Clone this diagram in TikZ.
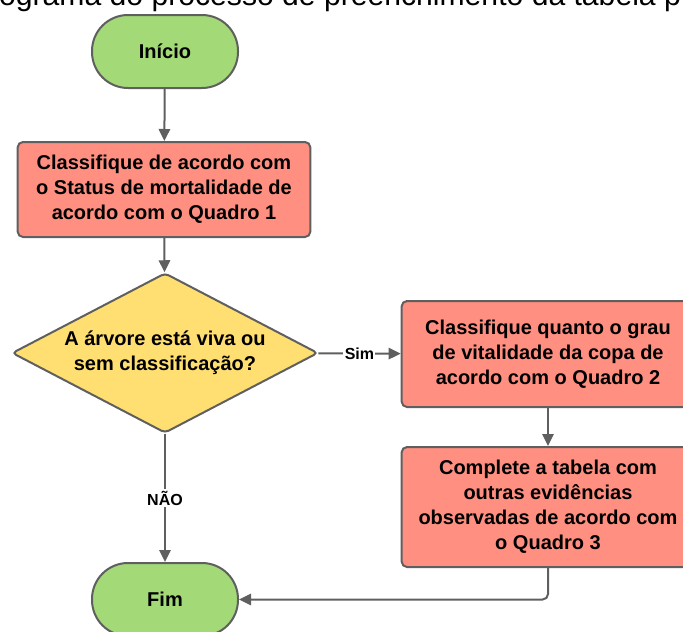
\documentclass[tikz,border=0pt]{standalone}
\usepackage{fontspec}
\setmainfont{Liberation Sans}
\usetikzlibrary{shapes.geometric,arrows.meta}
\definecolor{startgreen}{HTML}{A3D977}
\definecolor{boxred}{HTML}{FF8F80}
\definecolor{askyellow}{HTML}{FFDF71}
\definecolor{edgegray}{HTML}{5F5F5F}
\tikzset{
  terminal/.style={draw=edgegray,line width=1.5pt,fill=startgreen,rounded corners=27pt,
    minimum width=109.5pt,minimum height=54.75pt,font=\bfseries\fontsize{15}{18.75}\selectfont},
  process/.style={draw=edgegray,line width=1.5pt,fill=boxred,rounded corners=4pt,
    minimum width=219.5pt,align=center,font=\bfseries\fontsize{15}{18.75}\selectfont},
  decision/.style={diamond,draw=edgegray,line width=1.5pt,fill=askyellow,rounded corners=3pt,
    shape aspect=1.91,inner sep=0pt,minimum width=229.5pt,minimum height=120pt,
    align=center,font=\bfseries\fontsize{15}{18.75}\selectfont},
  flow/.style={draw=edgegray,line width=1.5pt,-{Triangle[length=9pt,width=8.5pt]}},
  tag/.style={fill=white,inner sep=1pt,font=\bfseries\fontsize{12}{14}\selectfont}
}

\begin{document}
\begin{tikzpicture}[x=0.75pt,y=-0.75pt]
        \useasboundingbox (0,0) rectangle (683,632);
        \clip (0,0) rectangle (683,632);
        % Caption cut off by the top edge
        \node[anchor=base west,inner sep=0pt,font=\fontsize{22.6}{26}\selectfont] (caption) at (-58,5)
            {Fluxograma do processo de preenchimento da tabela p};
        % Main column
        \node[terminal] (start) at (165,51.5) {Início};
        \node[process,minimum height=71.25pt] (classify) at (164,189.5)
            {Classifique de acordo com\\o Status de mortalidade de\\acordo com o Quadro 1};
        \node[decision] (alive) at (165,353) {A árvore está viva ou\\sem classificação?};
        \node[terminal] (finish) at (165,599.5) {Fim};
        % Right column
        \node[process,minimum height=79.5pt] (crown) at (548,354)
            {Classifique quanto o grau\\de vitalidade da copa de\\acordo com o Quadro 2};
        \node[process,minimum height=90pt] (evidence) at (548,507)
            {Complete a tabela com\\outras evidências\\observadas de acordo com\\o Quadro 3};
        % Connectors
        \draw[flow] (start) -- (classify);
        \draw[flow] (classify) -- (alive);
        \draw[flow] (alive) -- node[tag] {Sim} (crown);
        \draw[flow] (crown) -- (evidence);
        \draw[flow] (alive) -- node[tag] {NÃO} (finish);
        \draw[flow,rounded corners=4pt] (evidence.south) |- (finish.east);
    \end{tikzpicture}
\end{document}
